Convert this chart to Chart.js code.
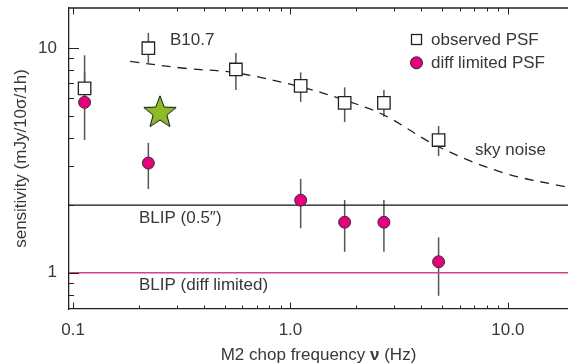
<!DOCTYPE html>
<html>
<head>
<meta charset="utf-8">
<script src="https://cdn.jsdelivr.net/npm/chart.js@4.4.1/dist/chart.umd.min.js"></script>
<style>
  html, body { margin: 0; padding: 0; background: #fff; }
</style>
</head>
<body>
<canvas id="chart" width="568" height="364"></canvas>
<script>
// observed PSF (squares)
const freqObs = [0.113, 0.222, 0.561, 1.114, 1.775, 2.69, 4.80];
const sensObs = [6.62, 10.0, 8.04, 6.80, 5.71, 5.71, 3.90];
const obsLo = [5.6, 8.6, 6.51, 5.77, 4.69, 4.95, 3.31];
const obsHi = [7.8, 11.7, 9.53, 7.8, 6.69, 6.51, 4.50];

// diff limited PSF (circles)
const freqDiff = [0.113, 0.222, 1.114, 1.775, 2.69, 4.80];
const sensDiff = [5.74, 3.08, 2.105, 1.68, 1.68, 1.12];
const diffLo = [3.9, 2.36, 1.58, 1.24, 1.24, 0.79];
const diffHi = [9.3, 3.79, 2.62, 2.11, 2.11, 1.44];

// star
const freqStar = [0.251];
const sensStar = [5.21];

// sky noise curve
const freqSky = [0.183, 0.333, 0.561, 1.114, 1.775, 2.69, 4.80, 9.51, 18.9];
const sensSky = [8.73, 8.12, 7.77, 6.73, 5.87, 5.04, 3.64, 2.79, 2.40];

const blipSeeing = 2.0;
const blipDiff = 1.0;

const xRange = [0.0958, 18.9];
const yRange = [0.69, 15.1];
const xMajor = [0.1, 1, 10];
const xMajorLabels = ["0.1", "1.0", "10.0"];
const xMinor = [0.2, 0.3, 0.4, 0.5, 0.6, 0.7, 0.8, 0.9, 2, 3, 4, 5, 6, 7, 8, 9];
const yMajor = [1, 10];
const yMajorLabels = ["1", "10"];
const yMinor = [0.7, 0.8, 0.9, 2, 3, 4, 5, 6, 7, 8, 9];

const FONT = '"Liberation Sans", Arial, sans-serif';
const TXT = "#383838";
const MAGENTA = "#e5007d";

const pts = (xs, ys) => xs.map((v, i) => ({ x: v, y: ys[i] }));

// filled five point star used as point style
const star = document.createElement("canvas");
star.width = 38;
star.height = 38;
(function () {
  const c = star.getContext("2d");
  const R = 17, r = 7.2;
  c.beginPath();
  for (let i = 0; i < 10; i++) {
    const a = -Math.PI / 2 + (i * Math.PI) / 5;
    const rr = i % 2 ? r : R;
    c.lineTo(19 + rr * Math.cos(a), 20 + rr * Math.sin(a));
  }
  c.closePath();
  c.fillStyle = "#8dbb25";
  c.fill();
  c.strokeStyle = "#111";
  c.lineWidth = 1;
  c.stroke();
})();

const noPad = (s) => {
  s.paddingTop = 0;
  s.paddingBottom = 0;
  s.paddingLeft = 0;
  s.paddingRight = 0;
};

const extras = {
  id: "extras",
  beforeDatasetsDraw(chart) {
    const { ctx, scales: { x, y } } = chart;
    ctx.save();
    ctx.strokeStyle = "#555";
    ctx.lineWidth = 1.5;
    const bars = (xs, lo, hi) => xs.forEach((v, i) => {
      const px = x.getPixelForValue(v);
      ctx.beginPath();
      ctx.moveTo(px, y.getPixelForValue(lo[i]));
      ctx.lineTo(px, y.getPixelForValue(hi[i]));
      ctx.stroke();
    });
    bars(freqObs, obsLo, obsHi);
    bars(freqDiff, diffLo, diffHi);
    ctx.restore();
  },
  afterDraw(chart) {
    const { ctx, chartArea: a, scales: { x, y } } = chart;
    ctx.save();
    ctx.strokeStyle = "#222";
    ctx.lineWidth = 1.3;
    // top frame line
    ctx.beginPath();
    ctx.moveTo(a.left, a.top);
    ctx.lineTo(a.right, a.top);
    ctx.stroke();
    // inward ticks
    ctx.lineWidth = 1;
    const xt = (v, len) => {
      const px = Math.round(x.getPixelForValue(v)) + 0.5;
      ctx.beginPath();
      ctx.moveTo(px, a.bottom); ctx.lineTo(px, a.bottom - len);
      ctx.moveTo(px, a.top); ctx.lineTo(px, a.top + len);
      ctx.stroke();
    };
    const yt = (v, len) => {
      const py = Math.round(y.getPixelForValue(v)) + 0.5;
      ctx.beginPath();
      ctx.moveTo(a.left, py); ctx.lineTo(a.left + len, py);
      ctx.stroke();
    };
    xMajor.forEach(v => xt(v, 6.5));
    xMinor.forEach(v => xt(v, 3.5));
    yMajor.forEach(v => yt(v, 10));
    yMinor.forEach(v => yt(v, 5));

    // annotations
    ctx.fillStyle = TXT;
    ctx.font = "17px " + FONT;
    ctx.textBaseline = "alphabetic";
    ctx.textAlign = "left";
    ctx.fillText("B10.7", 170, 45);
    ctx.fillText("sky noise", 475, 154.5);
    ctx.fillText("BLIP (0.5\u2033)", 139, 222.5);
    ctx.fillText("BLIP (diff limited)", 139, 290);

    // legend
    ctx.fillText("observed PSF", 431, 45);
    ctx.fillText("diff limited PSF", 431, 68);
    ctx.strokeStyle = "#222";
    ctx.lineWidth = 1.3;
    ctx.fillStyle = "#fff";
    ctx.fillRect(411.5, 34.5, 10, 10);
    ctx.strokeRect(411.5, 34.5, 10, 10);
    ctx.beginPath();
    ctx.arc(416.5, 62.8, 6, 0, Math.PI * 2);
    ctx.fillStyle = MAGENTA;
    ctx.fill();
    ctx.lineWidth = 1;
    ctx.stroke();

    // axis titles
    ctx.fillStyle = TXT;
    const partA = "M2 chop frequency ", partB = "\u03bd", partC = " (Hz)";
    ctx.font = "17px " + FONT;
    const wA = ctx.measureText(partA).width, wC = ctx.measureText(partC).width;
    ctx.font = "bold 17px " + FONT;
    const wB = ctx.measureText(partB).width;
    let tx = (a.left + a.right) / 2 - (wA + wB + wC) / 2;
    ctx.font = "17px " + FONT;
    ctx.fillText(partA, tx, 359.5);
    ctx.font = "bold 17px " + FONT;
    ctx.fillText(partB, tx + wA, 359.5);
    ctx.font = "17px " + FONT;
    ctx.fillText(partC, tx + wA + wB, 359.5);

    ctx.translate(25.5, (a.top + a.bottom) / 2);
    ctx.rotate(-Math.PI / 2);
    ctx.textAlign = "center";
    ctx.fillText("sensitivity (mJy/10\u03c3/1h)", 0, 0);
    ctx.restore();
  }
};

new Chart(document.getElementById("chart"), {
  type: "scatter",
  data: {
    datasets: [
      {
        data: pts(freqDiff, sensDiff),
        pointStyle: "circle",
        pointRadius: 6,
        backgroundColor: MAGENTA,
        borderColor: "#333",
        borderWidth: 1,
        order: 1,
      },
      {
        data: pts(freqStar, sensStar),
        pointStyle: star,
        pointRadius: 10,
        order: 2,
      },
      {
        data: pts(freqObs, sensObs),
        pointStyle: "rect",
        pointRadius: 8.8,
        backgroundColor: "#fff",
        borderColor: "#222",
        borderWidth: 1.3,
        order: 3,
      },
      {
        data: pts(freqSky, sensSky),
        showLine: true,
        pointRadius: 0,
        borderColor: "#222",
        borderWidth: 1.3,
        borderDash: [9, 7],
        tension: 0.35,
        order: 4,
      },
      {
        data: [{ x: xRange[0], y: blipSeeing }, { x: xRange[1], y: blipSeeing }],
        showLine: true,
        pointRadius: 0,
        borderColor: "#111",
        borderWidth: 1.2,
        order: 5,
      },
      {
        data: [{ x: xRange[0], y: blipDiff }, { x: xRange[1], y: blipDiff }],
        showLine: true,
        pointRadius: 0,
        borderColor: "#d9408c",
        borderWidth: 1.6,
        order: 6,
      },
    ],
  },
  options: {
    responsive: false,
    animation: false,
    layout: { autoPadding: false, padding: { top: 8, right: 0, left: 0, bottom: 0 } },
    plugins: {
      legend: { display: false },
      tooltip: { enabled: false },
    },
    scales: {
      x: {
        type: "logarithmic",
        min: xRange[0],
        max: xRange[1],
        grid: { display: false, drawTicks: false },
        border: { display: true, color: "#222", width: 1.3 },
        afterBuildTicks: (s) => { s.ticks = xMajor.map(v => ({ value: v })); },
        afterFit: (s) => { s.height = 55; noPad(s); },
        ticks: {
          autoSkip: false,
          maxRotation: 0,
          padding: 11,
          color: TXT,
          font: { family: FONT, size: 17 },
          callback: (v, i) => xMajorLabels[i],
        },
      },
      y: {
        type: "logarithmic",
        min: yRange[0],
        max: yRange[1],
        grid: { display: false, drawTicks: false },
        border: { display: true, color: "#222", width: 1.3 },
        afterBuildTicks: (s) => { s.ticks = yMajor.map(v => ({ value: v })); },
        afterFit: (s) => { s.width = 69; noPad(s); },
        ticks: {
          autoSkip: false,
          padding: 12,
          color: TXT,
          font: { family: FONT, size: 17 },
          callback: (v, i) => yMajorLabels[i],
        },
      },
    },
  },
  plugins: [extras],
});
</script>
</body>
</html>
